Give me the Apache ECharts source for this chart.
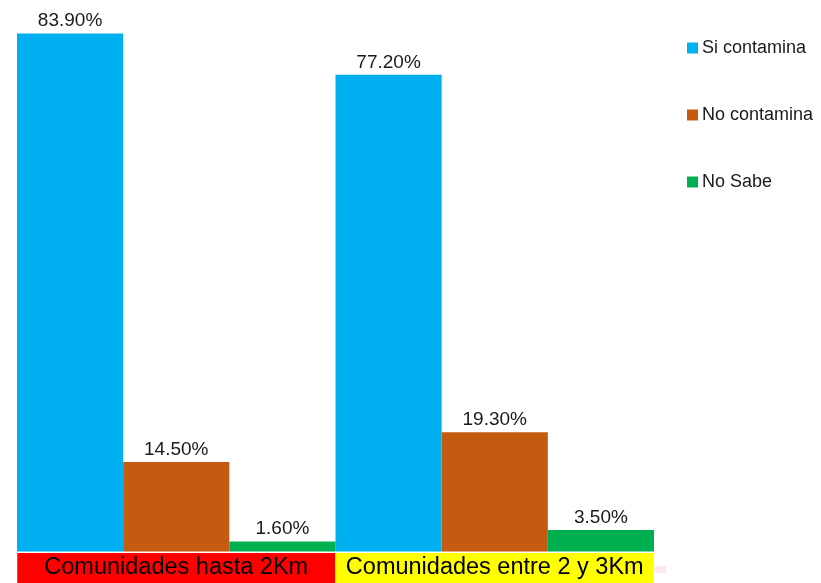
<!DOCTYPE html>
<html>
<head>
<meta charset="utf-8">
<script src="https://cdn.jsdelivr.net/npm/echarts@6/dist/echarts.min.js"></script>
<style>html,body{margin:0;padding:0;background:#fff}#c{width:821px;height:583px}</style>
</head>
<body>
<div id="c"></div>
<script>
var categories = ['Comunidades hasta 2Km', 'Comunidades entre 2 y 3Km'];
var categoryColors = ['#FF0000', '#FFFF00'];
var siContamina = [83.9, 77.2];
var noContamina = [14.5, 19.3];
var noSabe = [1.6, 3.5];

var chart = echarts.init(document.getElementById('c'));
var labelCfg = {
  show: true, position: 'top', distance: 3,
  fontFamily: 'Liberation Sans, Arial, sans-serif', fontSize: 19, color: '#1a1a1a',
  formatter: function (p) { return p.value.toFixed(2) + '%'; }
};
var catStyle = function (c) {
  return { backgroundColor: c, width: 318, height: 30, align: 'center', fontSize: 23.5, color: '#000', lineHeight: 33, verticalAlign: 'middle' };
};
chart.setOption({
  animation: false,
  textStyle: { fontFamily: 'Liberation Sans, Arial, sans-serif' },
  grid: { left: 17, width: 637, top: 5, bottom: 30, containLabel: false },
  legend: {
    orient: 'vertical', left: 687, top: 39, itemGap: 49, padding: 0,
    itemWidth: 11, itemHeight: 11, icon: 'rect',
    textStyle: { fontSize: 18, color: '#1a1a1a', padding: [0, 0, 0, -1] },
    data: ['Si contamina', 'No contamina', 'No Sabe']
  },
  xAxis: {
    type: 'category', data: categories,
    axisLine: { show: false }, axisTick: { show: false },
    axisLabel: {
      margin: 0, interval: 0,
      formatter: function (v, i) { return '{c' + i + '|' + v + '}'; },
      rich: { c0: catStyle(categoryColors[0]), c1: catStyle(categoryColors[1]) }
    }
  },
  yAxis: { type: 'value', min: 0, max: 88.5, show: false, splitLine: { show: false } },
  series: [
    { name: 'Si contamina', type: 'bar', data: siContamina, barGap: '0%', barCategoryGap: '0%', itemStyle: { color: '#00B0F0' }, label: labelCfg },
    { name: 'No contamina', type: 'bar', data: noContamina, itemStyle: { color: '#C55A11' }, label: labelCfg },
    { name: 'No Sabe', type: 'bar', data: noSabe, itemStyle: { color: '#00B050' }, label: labelCfg }
  ],
  graphic: [
    { type: 'rect', left: 655, top: 566, shape: { width: 11, height: 7 }, style: { fill: '#FDE9EC' } }
  ]
});
</script>
</body>
</html>
